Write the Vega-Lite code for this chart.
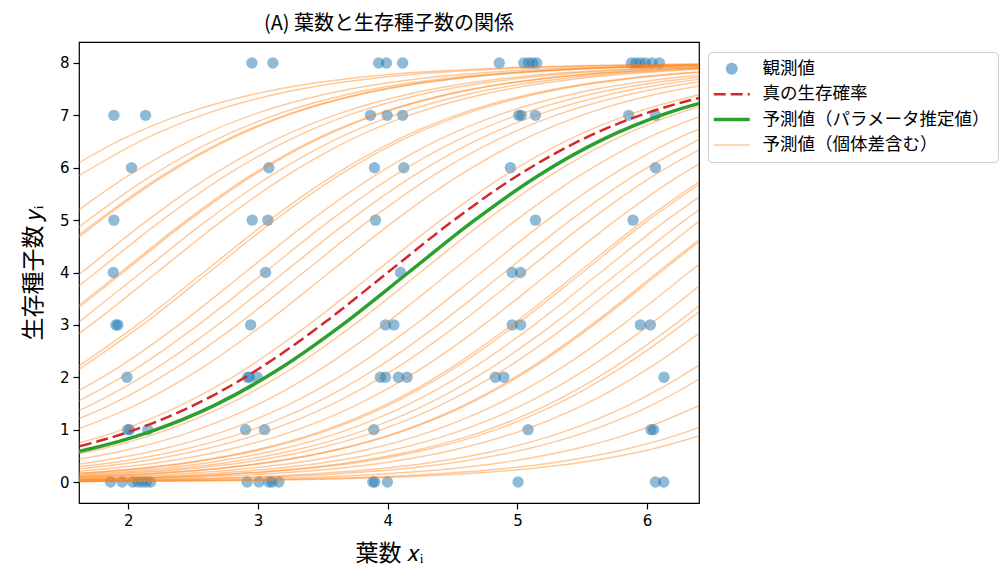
{
  "$schema": "https://vega.github.io/schema/vega-lite/v6.json",
  "autosize": {"type": "none"},
  "padding": {"left": 79, "top": 42, "right": 308, "bottom": 71},
  "width": 620,
  "height": 461,
  "background": "white",
  "title": {
    "text": "(A) 葉数と生存種子数の関係",
    "font": "Noto Sans CJK JP",
    "fontSize": 20,
    "fontWeight": "normal",
    "color": "black",
    "offset": 8
  },
  "config": {
    "view": {"stroke": "black", "strokeWidth": 1.2},
    "axis": {
      "domain": false,
      "grid": false,
      "tickColor": "black",
      "tickWidth": 1.2,
      "tickSize": 6,
      "labelColor": "black",
      "labelFont": "DejaVu Sans",
      "labelFontSize": 15,
      "labelPadding": 4,
      "titleFont": "Noto Sans CJK JP",
      "titleFontSize": 23,
      "titleFontWeight": "normal",
      "titleColor": "black"
    }
  },
  "datasets": {
    "obs": [
      {"x": 2.953, "y": 8}, {"x": 3.115, "y": 8}, {"x": 3.93, "y": 8}, {"x": 3.99, "y": 8}, {"x": 4.115, "y": 8},
      {"x": 4.86, "y": 8}, {"x": 5.049, "y": 8}, {"x": 5.087, "y": 8}, {"x": 5.118, "y": 8}, {"x": 5.149, "y": 8},
      {"x": 5.879, "y": 8}, {"x": 5.914, "y": 8}, {"x": 5.948, "y": 8}, {"x": 5.987, "y": 8}, {"x": 6.038, "y": 8}, {"x": 6.095, "y": 8},
      {"x": 1.889, "y": 7}, {"x": 2.133, "y": 7}, {"x": 3.867, "y": 7}, {"x": 3.996, "y": 7}, {"x": 4.115, "y": 7},
      {"x": 5.01, "y": 7}, {"x": 5.03, "y": 7}, {"x": 5.139, "y": 7}, {"x": 5.858, "y": 7}, {"x": 6.064, "y": 7},
      {"x": 2.025, "y": 6}, {"x": 3.084, "y": 6}, {"x": 3.898, "y": 6}, {"x": 4.124, "y": 6}, {"x": 4.946, "y": 6}, {"x": 6.064, "y": 6},
      {"x": 1.889, "y": 5}, {"x": 2.955, "y": 5}, {"x": 3.076, "y": 5}, {"x": 3.906, "y": 5}, {"x": 5.139, "y": 5}, {"x": 5.891, "y": 5},
      {"x": 1.884, "y": 4}, {"x": 3.058, "y": 4}, {"x": 4.099, "y": 4}, {"x": 4.96, "y": 4}, {"x": 5.024, "y": 4},
      {"x": 1.905, "y": 3}, {"x": 1.92, "y": 3}, {"x": 2.943, "y": 3}, {"x": 3.983, "y": 3}, {"x": 4.047, "y": 3},
      {"x": 4.96, "y": 3}, {"x": 5.024, "y": 3}, {"x": 5.948, "y": 3}, {"x": 6.025, "y": 3},
      {"x": 1.99, "y": 2}, {"x": 2.92, "y": 2}, {"x": 2.935, "y": 2}, {"x": 2.994, "y": 2}, {"x": 3.944, "y": 2}, {"x": 3.983, "y": 2},
      {"x": 4.083, "y": 2}, {"x": 4.149, "y": 2}, {"x": 4.83, "y": 2}, {"x": 4.895, "y": 2}, {"x": 6.13, "y": 2},
      {"x": 1.995, "y": 1}, {"x": 2.01, "y": 1}, {"x": 2.15, "y": 1}, {"x": 2.904, "y": 1}, {"x": 3.05, "y": 1},
      {"x": 3.893, "y": 1}, {"x": 5.082, "y": 1}, {"x": 6.03, "y": 1}, {"x": 6.05, "y": 1},
      {"x": 1.864, "y": 0}, {"x": 1.953, "y": 0}, {"x": 2.035, "y": 0}, {"x": 2.074, "y": 0}, {"x": 2.107, "y": 0},
      {"x": 2.138, "y": 0}, {"x": 2.172, "y": 0}, {"x": 2.916, "y": 0}, {"x": 3.007, "y": 0}, {"x": 3.084, "y": 0},
      {"x": 3.109, "y": 0}, {"x": 3.161, "y": 0}, {"x": 3.885, "y": 0}, {"x": 3.9, "y": 0}, {"x": 3.998, "y": 0},
      {"x": 5.005, "y": 0}, {"x": 6.064, "y": 0}, {"x": 6.128, "y": 0}
    ],
    "truth": [
      {"x": 1.5, "y": 0.607}, {"x": 2.0, "y": 0.954}, {"x": 2.5, "y": 1.459}, {"x": 3.0, "y": 2.152},
      {"x": 3.5, "y": 3.02}, {"x": 4.0, "y": 4.0}, {"x": 4.5, "y": 4.98}, {"x": 5.0, "y": 5.848},
      {"x": 5.5, "y": 6.541}, {"x": 6.0, "y": 7.046}, {"x": 6.5, "y": 7.393}
    ],
    "fit": [
      {"x": 1.16, "y": 0.379}, {"x": 1.66, "y": 0.607}, {"x": 2.16, "y": 0.954}, {"x": 2.66, "y": 1.459},
      {"x": 3.16, "y": 2.152}, {"x": 3.66, "y": 3.02}, {"x": 4.16, "y": 4.0}, {"x": 4.66, "y": 4.98},
      {"x": 5.16, "y": 5.848}, {"x": 5.66, "y": 6.541}, {"x": 6.16, "y": 7.046}, {"x": 6.66, "y": 7.393}
    ],
    "curves": [
      {"i":1,"x":1.45,"y":5.848},{"i":1,"x":1.95,"y":6.541},{"i":1,"x":2.45,"y":7.046},{"i":1,"x":2.95,"y":7.393},{"i":1,"x":3.45,"y":7.621},{"i":1,"x":3.95,"y":7.766},{"i":1,"x":4.45,"y":7.856},{"i":1,"x":4.95,"y":7.912},{"i":1,"x":5.45,"y":7.946},{"i":1,"x":5.95,"y":7.967},{"i":1,"x":6.45,"y":7.98},
      {"i":2,"x":1.62,"y":5.848},{"i":2,"x":2.12,"y":6.541},{"i":2,"x":2.62,"y":7.046},{"i":2,"x":3.12,"y":7.393},{"i":2,"x":3.62,"y":7.621},{"i":2,"x":4.12,"y":7.766},{"i":2,"x":4.62,"y":7.856},{"i":2,"x":5.12,"y":7.912},{"i":2,"x":5.62,"y":7.946},{"i":2,"x":6.12,"y":7.967},{"i":2,"x":6.62,"y":7.98},
      {"i":3,"x":1.5,"y":4.98},{"i":3,"x":2.0,"y":5.848},{"i":3,"x":2.5,"y":6.541},{"i":3,"x":3.0,"y":7.046},{"i":3,"x":3.5,"y":7.393},{"i":3,"x":4.0,"y":7.621},{"i":3,"x":4.5,"y":7.766},{"i":3,"x":5.0,"y":7.856},{"i":3,"x":5.5,"y":7.912},{"i":3,"x":6.0,"y":7.946},{"i":3,"x":6.5,"y":7.967},
      {"i":4,"x":1.18,"y":4.0},{"i":4,"x":1.68,"y":4.98},{"i":4,"x":2.18,"y":5.848},{"i":4,"x":2.68,"y":6.541},{"i":4,"x":3.18,"y":7.046},{"i":4,"x":3.68,"y":7.393},{"i":4,"x":4.18,"y":7.621},{"i":4,"x":4.68,"y":7.766},{"i":4,"x":5.18,"y":7.856},{"i":4,"x":5.68,"y":7.912},{"i":4,"x":6.18,"y":7.946},{"i":4,"x":6.68,"y":7.967},
      {"i":5,"x":1.26,"y":4.0},{"i":5,"x":1.76,"y":4.98},{"i":5,"x":2.26,"y":5.848},{"i":5,"x":2.76,"y":6.541},{"i":5,"x":3.26,"y":7.046},{"i":5,"x":3.76,"y":7.393},{"i":5,"x":4.26,"y":7.621},{"i":5,"x":4.76,"y":7.766},{"i":5,"x":5.26,"y":7.856},{"i":5,"x":5.76,"y":7.912},{"i":5,"x":6.26,"y":7.946},{"i":5,"x":6.76,"y":7.967},
      {"i":6,"x":1.28,"y":4.0},{"i":6,"x":1.78,"y":4.98},{"i":6,"x":2.28,"y":5.848},{"i":6,"x":2.78,"y":6.541},{"i":6,"x":3.28,"y":7.046},{"i":6,"x":3.78,"y":7.393},{"i":6,"x":4.28,"y":7.621},{"i":6,"x":4.78,"y":7.766},{"i":6,"x":5.28,"y":7.856},{"i":6,"x":5.78,"y":7.912},{"i":6,"x":6.28,"y":7.946},{"i":6,"x":6.78,"y":7.967},
      {"i":7,"x":1.14,"y":3.02},{"i":7,"x":1.64,"y":4.0},{"i":7,"x":2.14,"y":4.98},{"i":7,"x":2.64,"y":5.848},{"i":7,"x":3.14,"y":6.541},{"i":7,"x":3.64,"y":7.046},{"i":7,"x":4.14,"y":7.393},{"i":7,"x":4.64,"y":7.621},{"i":7,"x":5.14,"y":7.766},{"i":7,"x":5.64,"y":7.856},{"i":7,"x":6.14,"y":7.912},{"i":7,"x":6.64,"y":7.946},
      {"i":8,"x":1.25,"y":3.02},{"i":8,"x":1.75,"y":4.0},{"i":8,"x":2.25,"y":4.98},{"i":8,"x":2.75,"y":5.848},{"i":8,"x":3.25,"y":6.541},{"i":8,"x":3.75,"y":7.046},{"i":8,"x":4.25,"y":7.393},{"i":8,"x":4.75,"y":7.621},{"i":8,"x":5.25,"y":7.766},{"i":8,"x":5.75,"y":7.856},{"i":8,"x":6.25,"y":7.912},{"i":8,"x":6.75,"y":7.946},
      {"i":9,"x":1.44,"y":3.02},{"i":9,"x":1.94,"y":4.0},{"i":9,"x":2.44,"y":4.98},{"i":9,"x":2.94,"y":5.848},{"i":9,"x":3.44,"y":6.541},{"i":9,"x":3.94,"y":7.046},{"i":9,"x":4.44,"y":7.393},{"i":9,"x":4.94,"y":7.621},{"i":9,"x":5.44,"y":7.766},{"i":9,"x":5.94,"y":7.856},{"i":9,"x":6.44,"y":7.912},
      {"i":10,"x":1.46,"y":3.02},{"i":10,"x":1.96,"y":4.0},{"i":10,"x":2.46,"y":4.98},{"i":10,"x":2.96,"y":5.848},{"i":10,"x":3.46,"y":6.541},{"i":10,"x":3.96,"y":7.046},{"i":10,"x":4.46,"y":7.393},{"i":10,"x":4.96,"y":7.621},{"i":10,"x":5.46,"y":7.766},{"i":10,"x":5.96,"y":7.856},{"i":10,"x":6.46,"y":7.912},
      {"i":11,"x":1.6,"y":3.02},{"i":11,"x":2.1,"y":4.0},{"i":11,"x":2.6,"y":4.98},{"i":11,"x":3.1,"y":5.848},{"i":11,"x":3.6,"y":6.541},{"i":11,"x":4.1,"y":7.046},{"i":11,"x":4.6,"y":7.393},{"i":11,"x":5.1,"y":7.621},{"i":11,"x":5.6,"y":7.766},{"i":11,"x":6.1,"y":7.856},{"i":11,"x":6.6,"y":7.912},
      {"i":12,"x":1.22,"y":2.152},{"i":12,"x":1.72,"y":3.02},{"i":12,"x":2.22,"y":4.0},{"i":12,"x":2.72,"y":4.98},{"i":12,"x":3.22,"y":5.848},{"i":12,"x":3.72,"y":6.541},{"i":12,"x":4.22,"y":7.046},{"i":12,"x":4.72,"y":7.393},{"i":12,"x":5.22,"y":7.621},{"i":12,"x":5.72,"y":7.766},{"i":12,"x":6.22,"y":7.856},{"i":12,"x":6.72,"y":7.912},
      {"i":13,"x":1.58,"y":2.152},{"i":13,"x":2.08,"y":3.02},{"i":13,"x":2.58,"y":4.0},{"i":13,"x":3.08,"y":4.98},{"i":13,"x":3.58,"y":5.848},{"i":13,"x":4.08,"y":6.541},{"i":13,"x":4.58,"y":7.046},{"i":13,"x":5.08,"y":7.393},{"i":13,"x":5.58,"y":7.621},{"i":13,"x":6.08,"y":7.766},{"i":13,"x":6.58,"y":7.856},
      {"i":14,"x":1.62,"y":2.152},{"i":14,"x":2.12,"y":3.02},{"i":14,"x":2.62,"y":4.0},{"i":14,"x":3.12,"y":4.98},{"i":14,"x":3.62,"y":5.848},{"i":14,"x":4.12,"y":6.541},{"i":14,"x":4.62,"y":7.046},{"i":14,"x":5.12,"y":7.393},{"i":14,"x":5.62,"y":7.621},{"i":14,"x":6.12,"y":7.766},{"i":14,"x":6.62,"y":7.856},
      {"i":15,"x":1.4,"y":1.459},{"i":15,"x":1.9,"y":2.152},{"i":15,"x":2.4,"y":3.02},{"i":15,"x":2.9,"y":4.0},{"i":15,"x":3.4,"y":4.98},{"i":15,"x":3.9,"y":5.848},{"i":15,"x":4.4,"y":6.541},{"i":15,"x":4.9,"y":7.046},{"i":15,"x":5.4,"y":7.393},{"i":15,"x":5.9,"y":7.621},{"i":15,"x":6.4,"y":7.766},
      {"i":16,"x":1.55,"y":1.459},{"i":16,"x":2.05,"y":2.152},{"i":16,"x":2.55,"y":3.02},{"i":16,"x":3.05,"y":4.0},{"i":16,"x":3.55,"y":4.98},{"i":16,"x":4.05,"y":5.848},{"i":16,"x":4.55,"y":6.541},{"i":16,"x":5.05,"y":7.046},{"i":16,"x":5.55,"y":7.393},{"i":16,"x":6.05,"y":7.621},{"i":16,"x":6.55,"y":7.766},
      {"i":17,"x":1.2,"y":0.954},{"i":17,"x":1.7,"y":1.459},{"i":17,"x":2.2,"y":2.152},{"i":17,"x":2.7,"y":3.02},{"i":17,"x":3.2,"y":4.0},{"i":17,"x":3.7,"y":4.98},{"i":17,"x":4.2,"y":5.848},{"i":17,"x":4.7,"y":6.541},{"i":17,"x":5.2,"y":7.046},{"i":17,"x":5.7,"y":7.393},{"i":17,"x":6.2,"y":7.621},{"i":17,"x":6.7,"y":7.766},
      {"i":18,"x":1.35,"y":0.954},{"i":18,"x":1.85,"y":1.459},{"i":18,"x":2.35,"y":2.152},{"i":18,"x":2.85,"y":3.02},{"i":18,"x":3.35,"y":4.0},{"i":18,"x":3.85,"y":4.98},{"i":18,"x":4.35,"y":5.848},{"i":18,"x":4.85,"y":6.541},{"i":18,"x":5.35,"y":7.046},{"i":18,"x":5.85,"y":7.393},{"i":18,"x":6.35,"y":7.621},{"i":18,"x":6.85,"y":7.766},
      {"i":19,"x":1.55,"y":0.954},{"i":19,"x":2.05,"y":1.459},{"i":19,"x":2.55,"y":2.152},{"i":19,"x":3.05,"y":3.02},{"i":19,"x":3.55,"y":4.0},{"i":19,"x":4.05,"y":4.98},{"i":19,"x":4.55,"y":5.848},{"i":19,"x":5.05,"y":6.541},{"i":19,"x":5.55,"y":7.046},{"i":19,"x":6.05,"y":7.393},{"i":19,"x":6.55,"y":7.621},
      {"i":20,"x":1.4,"y":0.607},{"i":20,"x":1.9,"y":0.954},{"i":20,"x":2.4,"y":1.459},{"i":20,"x":2.9,"y":2.152},{"i":20,"x":3.4,"y":3.02},{"i":20,"x":3.9,"y":4.0},{"i":20,"x":4.4,"y":4.98},{"i":20,"x":4.9,"y":5.848},{"i":20,"x":5.4,"y":6.541},{"i":20,"x":5.9,"y":7.046},{"i":20,"x":6.4,"y":7.393},
      {"i":21,"x":1.25,"y":0.379},{"i":21,"x":1.75,"y":0.607},{"i":21,"x":2.25,"y":0.954},{"i":21,"x":2.75,"y":1.459},{"i":21,"x":3.25,"y":2.152},{"i":21,"x":3.75,"y":3.02},{"i":21,"x":4.25,"y":4.0},{"i":21,"x":4.75,"y":4.98},{"i":21,"x":5.25,"y":5.848},{"i":21,"x":5.75,"y":6.541},{"i":21,"x":6.25,"y":7.046},{"i":21,"x":6.75,"y":7.393},
      {"i":22,"x":1.48,"y":0.379},{"i":22,"x":1.98,"y":0.607},{"i":22,"x":2.48,"y":0.954},{"i":22,"x":2.98,"y":1.459},{"i":22,"x":3.48,"y":2.152},{"i":22,"x":3.98,"y":3.02},{"i":22,"x":4.48,"y":4.0},{"i":22,"x":4.98,"y":4.98},{"i":22,"x":5.48,"y":5.848},{"i":22,"x":5.98,"y":6.541},{"i":22,"x":6.48,"y":7.046},
      {"i":23,"x":1.22,"y":0.234},{"i":23,"x":1.72,"y":0.379},{"i":23,"x":2.22,"y":0.607},{"i":23,"x":2.72,"y":0.954},{"i":23,"x":3.22,"y":1.459},{"i":23,"x":3.72,"y":2.152},{"i":23,"x":4.22,"y":3.02},{"i":23,"x":4.72,"y":4.0},{"i":23,"x":5.22,"y":4.98},{"i":23,"x":5.72,"y":5.848},{"i":23,"x":6.22,"y":6.541},{"i":23,"x":6.72,"y":7.046},
      {"i":24,"x":1.4,"y":0.234},{"i":24,"x":1.9,"y":0.379},{"i":24,"x":2.4,"y":0.607},{"i":24,"x":2.9,"y":0.954},{"i":24,"x":3.4,"y":1.459},{"i":24,"x":3.9,"y":2.152},{"i":24,"x":4.4,"y":3.02},{"i":24,"x":4.9,"y":4.0},{"i":24,"x":5.4,"y":4.98},{"i":24,"x":5.9,"y":5.848},{"i":24,"x":6.4,"y":6.541},
      {"i":25,"x":1.55,"y":0.234},{"i":25,"x":2.05,"y":0.379},{"i":25,"x":2.55,"y":0.607},{"i":25,"x":3.05,"y":0.954},{"i":25,"x":3.55,"y":1.459},{"i":25,"x":4.05,"y":2.152},{"i":25,"x":4.55,"y":3.02},{"i":25,"x":5.05,"y":4.0},{"i":25,"x":5.55,"y":4.98},{"i":25,"x":6.05,"y":5.848},{"i":25,"x":6.55,"y":6.541},
      {"i":26,"x":1.25,"y":0.144},{"i":26,"x":1.75,"y":0.234},{"i":26,"x":2.25,"y":0.379},{"i":26,"x":2.75,"y":0.607},{"i":26,"x":3.25,"y":0.954},{"i":26,"x":3.75,"y":1.459},{"i":26,"x":4.25,"y":2.152},{"i":26,"x":4.75,"y":3.02},{"i":26,"x":5.25,"y":4.0},{"i":26,"x":5.75,"y":4.98},{"i":26,"x":6.25,"y":5.848},{"i":26,"x":6.75,"y":6.541},
      {"i":27,"x":1.47,"y":0.144},{"i":27,"x":1.97,"y":0.234},{"i":27,"x":2.47,"y":0.379},{"i":27,"x":2.97,"y":0.607},{"i":27,"x":3.47,"y":0.954},{"i":27,"x":3.97,"y":1.459},{"i":27,"x":4.47,"y":2.152},{"i":27,"x":4.97,"y":3.02},{"i":27,"x":5.47,"y":4.0},{"i":27,"x":5.97,"y":4.98},{"i":27,"x":6.47,"y":5.848},
      {"i":28,"x":1.5,"y":0.144},{"i":28,"x":2.0,"y":0.234},{"i":28,"x":2.5,"y":0.379},{"i":28,"x":3.0,"y":0.607},{"i":28,"x":3.5,"y":0.954},{"i":28,"x":4.0,"y":1.459},{"i":28,"x":4.5,"y":2.152},{"i":28,"x":5.0,"y":3.02},{"i":28,"x":5.5,"y":4.0},{"i":28,"x":6.0,"y":4.98},{"i":28,"x":6.5,"y":5.848},
      {"i":29,"x":1.14,"y":0.088},{"i":29,"x":1.64,"y":0.144},{"i":29,"x":2.14,"y":0.234},{"i":29,"x":2.64,"y":0.379},{"i":29,"x":3.14,"y":0.607},{"i":29,"x":3.64,"y":0.954},{"i":29,"x":4.14,"y":1.459},{"i":29,"x":4.64,"y":2.152},{"i":29,"x":5.14,"y":3.02},{"i":29,"x":5.64,"y":4.0},{"i":29,"x":6.14,"y":4.98},{"i":29,"x":6.64,"y":5.848},
      {"i":30,"x":1.28,"y":0.088},{"i":30,"x":1.78,"y":0.144},{"i":30,"x":2.28,"y":0.234},{"i":30,"x":2.78,"y":0.379},{"i":30,"x":3.28,"y":0.607},{"i":30,"x":3.78,"y":0.954},{"i":30,"x":4.28,"y":1.459},{"i":30,"x":4.78,"y":2.152},{"i":30,"x":5.28,"y":3.02},{"i":30,"x":5.78,"y":4.0},{"i":30,"x":6.28,"y":4.98},{"i":30,"x":6.78,"y":5.848},
      {"i":31,"x":1.4,"y":0.088},{"i":31,"x":1.9,"y":0.144},{"i":31,"x":2.4,"y":0.234},{"i":31,"x":2.9,"y":0.379},{"i":31,"x":3.4,"y":0.607},{"i":31,"x":3.9,"y":0.954},{"i":31,"x":4.4,"y":1.459},{"i":31,"x":4.9,"y":2.152},{"i":31,"x":5.4,"y":3.02},{"i":31,"x":5.9,"y":4.0},{"i":31,"x":6.4,"y":4.98},
      {"i":32,"x":1.58,"y":0.088},{"i":32,"x":2.08,"y":0.144},{"i":32,"x":2.58,"y":0.234},{"i":32,"x":3.08,"y":0.379},{"i":32,"x":3.58,"y":0.607},{"i":32,"x":4.08,"y":0.954},{"i":32,"x":4.58,"y":1.459},{"i":32,"x":5.08,"y":2.152},{"i":32,"x":5.58,"y":3.02},{"i":32,"x":6.08,"y":4.0},{"i":32,"x":6.58,"y":4.98},
      {"i":33,"x":1.6,"y":0.088},{"i":33,"x":2.1,"y":0.144},{"i":33,"x":2.6,"y":0.234},{"i":33,"x":3.1,"y":0.379},{"i":33,"x":3.6,"y":0.607},{"i":33,"x":4.1,"y":0.954},{"i":33,"x":4.6,"y":1.459},{"i":33,"x":5.1,"y":2.152},{"i":33,"x":5.6,"y":3.02},{"i":33,"x":6.1,"y":4.0},{"i":33,"x":6.6,"y":4.98},
      {"i":34,"x":1.32,"y":0.054},{"i":34,"x":1.82,"y":0.088},{"i":34,"x":2.32,"y":0.144},{"i":34,"x":2.82,"y":0.234},{"i":34,"x":3.32,"y":0.379},{"i":34,"x":3.82,"y":0.607},{"i":34,"x":4.32,"y":0.954},{"i":34,"x":4.82,"y":1.459},{"i":34,"x":5.32,"y":2.152},{"i":34,"x":5.82,"y":3.02},{"i":34,"x":6.32,"y":4.0},{"i":34,"x":6.82,"y":4.98},
      {"i":35,"x":1.53,"y":0.054},{"i":35,"x":2.03,"y":0.088},{"i":35,"x":2.53,"y":0.144},{"i":35,"x":3.03,"y":0.234},{"i":35,"x":3.53,"y":0.379},{"i":35,"x":4.03,"y":0.607},{"i":35,"x":4.53,"y":0.954},{"i":35,"x":5.03,"y":1.459},{"i":35,"x":5.53,"y":2.152},{"i":35,"x":6.03,"y":3.02},{"i":35,"x":6.53,"y":4.0},
      {"i":36,"x":1.22,"y":0.033},{"i":36,"x":1.72,"y":0.054},{"i":36,"x":2.22,"y":0.088},{"i":36,"x":2.72,"y":0.144},{"i":36,"x":3.22,"y":0.234},{"i":36,"x":3.72,"y":0.379},{"i":36,"x":4.22,"y":0.607},{"i":36,"x":4.72,"y":0.954},{"i":36,"x":5.22,"y":1.459},{"i":36,"x":5.72,"y":2.152},{"i":36,"x":6.22,"y":3.02},{"i":36,"x":6.72,"y":4.0},
      {"i":37,"x":1.28,"y":0.033},{"i":37,"x":1.78,"y":0.054},{"i":37,"x":2.28,"y":0.088},{"i":37,"x":2.78,"y":0.144},{"i":37,"x":3.28,"y":0.234},{"i":37,"x":3.78,"y":0.379},{"i":37,"x":4.28,"y":0.607},{"i":37,"x":4.78,"y":0.954},{"i":37,"x":5.28,"y":1.459},{"i":37,"x":5.78,"y":2.152},{"i":37,"x":6.28,"y":3.02},{"i":37,"x":6.78,"y":4.0},
      {"i":38,"x":1.5,"y":0.033},{"i":38,"x":2.0,"y":0.054},{"i":38,"x":2.5,"y":0.088},{"i":38,"x":3.0,"y":0.144},{"i":38,"x":3.5,"y":0.234},{"i":38,"x":4.0,"y":0.379},{"i":38,"x":4.5,"y":0.607},{"i":38,"x":5.0,"y":0.954},{"i":38,"x":5.5,"y":1.459},{"i":38,"x":6.0,"y":2.152},{"i":38,"x":6.5,"y":3.02},
      {"i":39,"x":1.35,"y":0.02},{"i":39,"x":1.85,"y":0.033},{"i":39,"x":2.35,"y":0.054},{"i":39,"x":2.85,"y":0.088},{"i":39,"x":3.35,"y":0.144},{"i":39,"x":3.85,"y":0.234},{"i":39,"x":4.35,"y":0.379},{"i":39,"x":4.85,"y":0.607},{"i":39,"x":5.35,"y":0.954},{"i":39,"x":5.85,"y":1.459},{"i":39,"x":6.35,"y":2.152},{"i":39,"x":6.85,"y":3.02},
      {"i":40,"x":1.53,"y":0.02},{"i":40,"x":2.03,"y":0.033},{"i":40,"x":2.53,"y":0.054},{"i":40,"x":3.03,"y":0.088},{"i":40,"x":3.53,"y":0.144},{"i":40,"x":4.03,"y":0.234},{"i":40,"x":4.53,"y":0.379},{"i":40,"x":5.03,"y":0.607},{"i":40,"x":5.53,"y":0.954},{"i":40,"x":6.03,"y":1.459},{"i":40,"x":6.53,"y":2.152},
      {"i":41,"x":1.4,"y":0.012},{"i":41,"x":1.9,"y":0.02},{"i":41,"x":2.4,"y":0.033},{"i":41,"x":2.9,"y":0.054},{"i":41,"x":3.4,"y":0.088},{"i":41,"x":3.9,"y":0.144},{"i":41,"x":4.4,"y":0.234},{"i":41,"x":4.9,"y":0.379},{"i":41,"x":5.4,"y":0.607},{"i":41,"x":5.9,"y":0.954},{"i":41,"x":6.4,"y":1.459},
      {"i":42,"x":1.3,"y":0.007},{"i":42,"x":1.8,"y":0.012},{"i":42,"x":2.3,"y":0.02},{"i":42,"x":2.8,"y":0.033},{"i":42,"x":3.3,"y":0.054},{"i":42,"x":3.8,"y":0.088},{"i":42,"x":4.3,"y":0.144},{"i":42,"x":4.8,"y":0.234},{"i":42,"x":5.3,"y":0.379},{"i":42,"x":5.8,"y":0.607},{"i":42,"x":6.3,"y":0.954},{"i":42,"x":6.8,"y":1.459},
      {"i":43,"x":1.5,"y":0.007},{"i":43,"x":2.0,"y":0.012},{"i":43,"x":2.5,"y":0.02},{"i":43,"x":3.0,"y":0.033},{"i":43,"x":3.5,"y":0.054},{"i":43,"x":4.0,"y":0.088},{"i":43,"x":4.5,"y":0.144},{"i":43,"x":5.0,"y":0.234},{"i":43,"x":5.5,"y":0.379},{"i":43,"x":6.0,"y":0.607},{"i":43,"x":6.5,"y":0.954}
    ]
  },
  "encoding": {
    "x": {
      "field": "x",
      "type": "quantitative",
      "scale": {"domain": [1.62, 6.4], "nice": false, "zero": false},
      "axis": {"values": [2, 3, 4, 5, 6], "title": "葉数 𝑥ᵢ", "titlePadding": 14}
    },
    "y": {
      "field": "y",
      "type": "quantitative",
      "scale": {"domain": [-0.4, 8.4], "nice": false, "zero": false},
      "axis": {"values": [0, 1, 2, 3, 4, 5, 6, 7, 8], "title": "生存種子数 𝑦ᵢ", "titlePadding": 14}
    }
  },
  "layer": [
    {
      "data": {"name": "obs"},
      "mark": {"type": "circle", "size": 130, "fillOpacity": 0.5},
      "encoding": {
        "color": {
          "datum": "観測値",
          "scale": {
            "domain": ["観測値", "真の生存確率", "予測値（パラメータ推定値）", "予測値（個体差含む）"],
            "range": ["#1f77b4", "#d62728", "#2ca02c", "#ff7f0e"]
          },
          "legend": {
            "title": null,
            "orient": "none",
            "legendX": 629,
            "legendY": 10,
            "strokeColor": "#cccccc",
            "fillColor": "white",
            "cornerRadius": 4,
            "padding": 8,
            "rowPadding": 6.4,
            "labelFont": "Noto Sans CJK JP",
            "labelFontSize": 17.5,
            "labelColor": "black",
            "labelLimit": 400,
            "symbolSize": 144,
            "symbolOffset": 7,
            "labelOffset": 22,
            "symbolType": {"expr": "datum.value === '観測値' ? 'circle' : 'M-3,0H3'"},
            "symbolDash": {"expr": "datum.value === '真の生存確率' ? [12, 5] : [1, 0]"},
            "symbolStrokeWidth": {"expr": "datum.value === '観測値' ? 0 : (datum.value === '真の生存確率' ? 2.5 : (datum.value === '予測値（パラメータ推定値）' ? 3.5 : 1.5))"},
            "symbolOpacity": {"expr": "datum.value === '観測値' ? 0.55 : (datum.value === '予測値（個体差含む）' ? 0.4 : 1)"}
          }
        }
      }
    },
    {
      "data": {"name": "curves"},
      "mark": {"type": "line", "interpolate": "monotone", "clip": true, "strokeWidth": 1.4, "strokeOpacity": 0.42},
      "encoding": {
        "detail": {"field": "i", "type": "nominal"},
        "color": {"datum": "予測値（個体差含む）"}
      }
    },
    {
      "data": {"name": "truth"},
      "mark": {"type": "line", "interpolate": "monotone", "clip": true, "strokeWidth": 2.5, "strokeDash": [12, 5]},
      "encoding": {"color": {"datum": "真の生存確率"}}
    },
    {
      "data": {"name": "fit"},
      "mark": {"type": "line", "interpolate": "monotone", "clip": true, "strokeWidth": 3.5},
      "encoding": {"color": {"datum": "予測値（パラメータ推定値）"}}
    }
  ]
}
